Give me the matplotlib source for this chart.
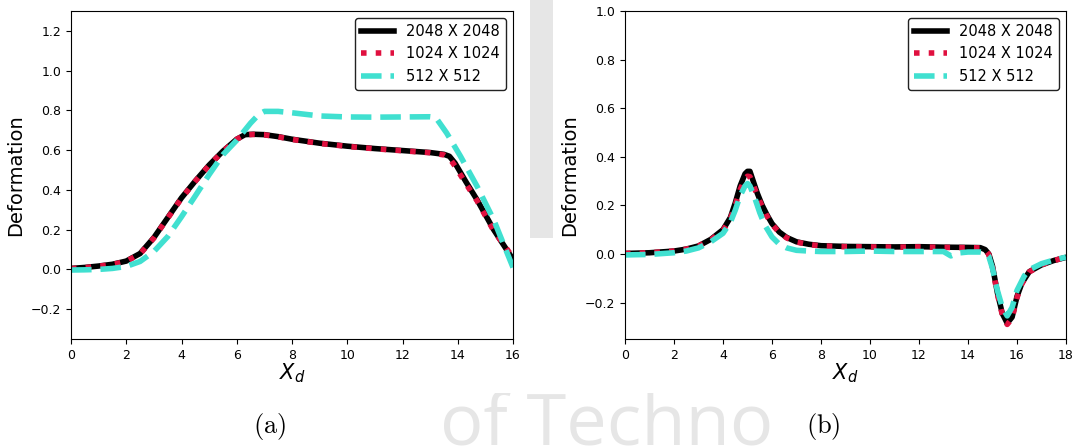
import matplotlib
matplotlib.use('Agg')
import matplotlib.pyplot as plt
from matplotlib.patches import Rectangle

# Grid resolutions compared in both panels
LABELS = ['2048 X 2048', '1024 X 1024', '512 X 512']

# (a) deformation along X_d
xa_2048 = [0, 0.5, 1, 1.5, 2, 2.5, 3, 3.5, 4, 4.5, 5, 5.5, 6, 6.3, 6.6, 7, 7.5, 8, 9, 10,
           11, 12, 13, 13.5, 13.7, 13.9, 14.3, 14.7, 15.3, 16]
ya_2048 = [0.005, 0.010, 0.017, 0.026, 0.042, 0.080, 0.160, 0.260, 0.360, 0.445, 0.525, 0.595,
           0.655, 0.678, 0.680, 0.678, 0.668, 0.655, 0.635, 0.620, 0.608, 0.598, 0.588, 0.579,
           0.569, 0.535, 0.440, 0.350, 0.200, 0.050]
xa_1024 = [0, 0.5, 1, 1.5, 2, 2.5, 3, 3.5, 4, 4.5, 5, 5.5, 6, 6.3, 6.6, 7, 7.5, 8, 9, 10,
           11, 12, 13, 13.5, 13.7, 13.9, 14.3, 14.7, 15.3, 16]
ya_1024 = [0.004, 0.009, 0.016, 0.025, 0.041, 0.078, 0.158, 0.258, 0.358, 0.444, 0.524, 0.594,
           0.655, 0.677, 0.679, 0.677, 0.667, 0.654, 0.634, 0.619, 0.607, 0.597, 0.587, 0.576,
           0.560, 0.520, 0.430, 0.345, 0.195, 0.060]
xa_512 = [0, 0.5, 1, 1.5, 2, 2.5, 3, 3.5, 4, 4.5, 5, 5.5, 6, 6.5, 6.8, 7, 7.5, 8, 8.5, 9,
          10, 11, 12, 13, 13.2, 13.6, 14.1, 14.7, 15.3, 16]
ya_512 = [-0.003, -0.002, 0.0, 0.005, 0.015, 0.040, 0.090, 0.165, 0.265, 0.370, 0.477, 0.577,
          0.650, 0.736, 0.780, 0.795, 0.795, 0.788, 0.780, 0.772, 0.767, 0.766, 0.767, 0.768,
          0.765, 0.686, 0.569, 0.418, 0.250, 0.010]

# (b) deformation along X_d
xb_2048 = [0, 1, 2, 2.5, 3, 3.5, 4, 4.3, 4.5, 4.7, 4.9, 5.0, 5.1, 5.2, 5.4, 5.6, 5.8, 6, 6.3,
           6.6, 7, 7.5, 8, 9, 10, 11, 12, 13, 14, 14.5, 14.7, 14.85, 15, 15.2, 15.4, 15.6,
           15.8, 16, 16.2, 16.5, 17, 17.5, 18]
yb_2048 = [0.002, 0.005, 0.012, 0.020, 0.033, 0.060, 0.100, 0.150, 0.210, 0.280, 0.330, 0.340,
           0.340, 0.310, 0.250, 0.200, 0.160, 0.125, 0.090, 0.068, 0.050, 0.040, 0.034, 0.031,
           0.030, 0.029, 0.030, 0.028, 0.027, 0.026, 0.018, 0.0, -0.050, -0.160, -0.245, -0.285,
           -0.260, -0.175, -0.120, -0.073, -0.045, -0.027, -0.014]
xb_1024 = [0, 1, 2, 2.5, 3, 3.5, 4, 4.3, 4.5, 4.7, 4.9, 5.0, 5.1, 5.2, 5.4, 5.6, 5.8, 6, 6.3,
           6.6, 7, 7.5, 8, 9, 10, 11, 12, 13, 14, 14.5, 14.7, 14.85, 15, 15.2, 15.4, 15.6,
           15.8, 16, 16.2, 16.5, 17, 17.5, 18]
yb_1024 = [0.002, 0.005, 0.012, 0.020, 0.033, 0.058, 0.097, 0.145, 0.200, 0.265, 0.310, 0.320,
           0.318, 0.295, 0.240, 0.195, 0.155, 0.122, 0.088, 0.066, 0.049, 0.039, 0.033, 0.030,
           0.029, 0.028, 0.029, 0.027, 0.026, 0.025, 0.017, -0.002, -0.055, -0.165, -0.250,
           -0.290, -0.265, -0.180, -0.122, -0.074, -0.045, -0.027, -0.014]
xb_512 = [0, 1, 2, 2.5, 3, 3.5, 4, 4.3, 4.5, 4.7, 4.9, 5.0, 5.1, 5.3, 5.5, 5.7, 6, 6.3, 6.6,
          7, 7.5, 8, 9, 10, 11, 12, 13, 13.3, 13.6, 14, 14.5, 14.7, 14.85, 15, 15.2, 15.4,
          15.6, 15.8, 16, 16.3, 16.5, 17, 17.5, 18]
yb_512 = [-0.004, -0.002, 0.005, 0.012, 0.025, 0.050, 0.085, 0.130, 0.180, 0.240, 0.280, 0.290,
          0.280, 0.230, 0.170, 0.120, 0.070, 0.040, 0.025, 0.015, 0.012, 0.010, 0.010, 0.012,
          0.010, 0.010, 0.010, -0.008, 0.004, 0.008, 0.008, 0.005, -0.010, -0.060, -0.150,
          -0.220, -0.255, -0.220, -0.150, -0.090, -0.065, -0.040, -0.025, -0.013]

STYLES = [
    dict(color='black', linestyle='-', linewidth=4.0),
    dict(color='#e0103f', linestyle=':', linewidth=4.0),
    dict(color='#40e0d0', linestyle='--', linewidth=4.0),
]

fig = plt.figure(figsize=(10.74, 4.46), dpi=100)
fig.patch.set_facecolor('white')

# faint watermark behind the two panels
W, H = 1074.0, 446.0
fig.text(440 / W, 0.0, 'of Techno', fontsize=52, color='#e6e6e6',
         family='Open Sans', ha='left', va='baseline', zorder=-3)
fig.add_artist(Rectangle((530 / W, 1 - 238 / H), 23 / W, 238 / H, transform=fig.transFigure,
                         facecolor='#e6e6e6', edgecolor='none', zorder=-3))
fig.add_artist(Rectangle((0, 1 - 393 / H), 530 / W, 393 / H, transform=fig.transFigure,
                         facecolor='white', edgecolor='none', zorder=-2))
fig.add_artist(Rectangle((553 / W, 1 - 393 / H), 521 / W, 393 / H, transform=fig.transFigure,
                         facecolor='white', edgecolor='none', zorder=-2))

ax_a = fig.add_axes([71 / W, 1 - 339 / H, 442 / W, 328 / H])
ax_b = fig.add_axes([625 / W, 1 - 339 / H, 441 / W, 328 / H])

panels = [
    (ax_a, [(xa_2048, ya_2048), (xa_1024, ya_1024), (xa_512, ya_512)], 16, (-0.35, 1.3),
     [-0.2, 0.0, 0.2, 0.4, 0.6, 0.8, 1.0, 1.2]),
    (ax_b, [(xb_2048, yb_2048), (xb_1024, yb_1024), (xb_512, yb_512)], 18, (-0.35, 1.0),
     [-0.2, 0.0, 0.2, 0.4, 0.6, 0.8, 1.0]),
]

for ax, series, xmax, ylim, yticks in panels:
    for (x, y), label, style in zip(series, LABELS, STYLES):
        ax.plot(x, y, label=label, **style)
    ax.set_xlim(0, xmax)
    ax.set_ylim(*ylim)
    ax.set_xticks(range(0, xmax + 1, 2))
    ax.set_yticks(yticks)
    ax.tick_params(labelsize=9)
    ax.set_xlabel('$X_d$', fontsize=15, labelpad=0)
    ax.set_ylabel('Deformation', fontsize=14)
    leg = ax.legend(loc='upper right', fontsize=10.5, framealpha=1, handlelength=2.3)
    leg.get_frame().set_edgecolor('#222222')

# panel captions
fig.text(270 / W, 1 - 427 / H, r'$\mathrm{(a)}$', fontsize=19, ha='center', va='center',
         math_fontfamily='cm')
fig.text(823 / W, 1 - 427 / H, r'$\mathrm{(b)}$', fontsize=19, ha='center', va='center',
         math_fontfamily='cm')

fig.savefig('out.png', dpi=100)
